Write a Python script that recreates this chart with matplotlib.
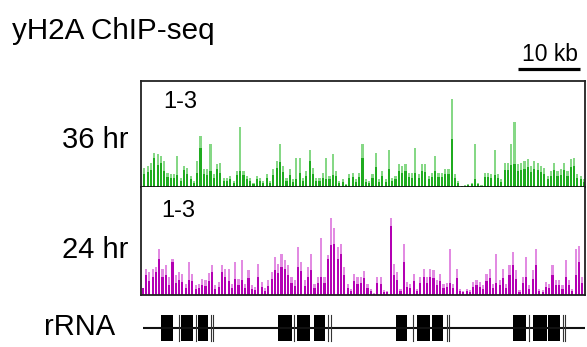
import matplotlib
matplotlib.use("Agg")
import matplotlib.pyplot as plt
import matplotlib.transforms as mtransforms
import numpy as np

plt.rcParams['font.family'] = ['Liberation Sans', 'DejaVu Sans']

# ---------------- data ----------------
# yH2A ChIP-seq signal per genomic bin (arbitrary units), two overlaid layers
h36_light = [19,21,24,34,33,31,26,14,13,13, 31,9,21,19,11,6,26,51,18,18,
             43,13,23,24,9,9,11,6,16,59, 16,11,9,4,11,9,6,13,6,18,
             26,43,21,9,18,8,29,29,9,16, 37,19,9,9,14,29,11,33,16,6,
             8,3,13,14,8,14,
             43,8,6,13,34,8,16,8,37,9, 11,23,21,23,14,14,39,13,23,23,
             11,14,31,14,14,18,18,87,13,6, 1,2,3,4,43,4,2,14,14,13,
             37,13,8,24,24,43,64,23,24,26, 28,21,26,24,21,19,11,16,24,16,
             18,24,16,28,29,13,11,8]
h36_dark = [13,15,17,29,22,24,16,10,9,9, 12,6,17,13,8,4,14,39,13,12,
            16,9,18,14,6,6,8,4,12,16, 12,8,6,3,8,6,4,9,4,12,
            19,25,15,6,12,5,8,14,6,11, 26,13,6,6,9,8,8,12,11,4,
            5,2,9,10,5,10,
            29,5,4,9,20,5,11,5,18,6, 8,16,14,16,10,9,14,9,16,15,
            8,10,16,10,10,13,13,48,9,4, 1,1,2,3,8,3,1,10,10,9,
            12,9,5,17,17,22,23,16,17,18, 20,15,18,17,15,13,8,11,17,11,
            12,17,11,20,21,9,8,5]
h24_light = [7,26,23,26,28,46,26,30,18,36, 20,23,21,11,33,21,10,11,16,15,
             22,30,10,13,30,26,26,11,33,16, 35,11,25,10,8,31,13,7,15,23,
             38,31,41,35,30,18,15,48,33,15, 28,41,11,18,56,18,40,76,66,48,
             51,28,11,6,21,18,18,
             24,11,6,2,18,18,5,4,76,31, 23,6,51,13,11,21,6,18,26,18,
             26,25,15,21,11,12,46,11,26,6, 4,6,5,13,15,13,10,21,26,11,
             41,15,26,11,30,43,25,5,18,38, 10,25,46,6,5,13,11,30,15,15,
             10,35,15,6,46,49,18]
h24_dark = [7,20,14,18,23,36,18,20,10,33, 12,15,13,7,15,14,6,7,10,9,
            14,23,6,8,23,18,14,7,16,10, 15,7,17,6,5,18,8,4,9,16,
            25,22,28,26,20,12,9,28,24,9, 18,25,7,12,18,12,36,50,51,36,
            41,20,7,4,14,11,12,
            17,7,4,1,12,11,3,3,68,20, 15,4,33,8,7,14,4,12,18,12,
            18,17,10,14,7,8,12,7,17,4, 3,4,3,8,10,8,6,14,17,7,
            12,10,17,7,20,30,16,3,12,18, 6,16,30,4,3,8,7,20,10,10,
            6,18,10,4,20,33,12]

region_kb = 71.6          # width of displayed region
bin_kb = 0.533            # bin size
start36_kb = 0.37
start24_kb = 0.10

# rRNA repeat annotation (kb)
rrna_block_start = [3.23, 6.45, 9.24, 22.15, 25.11, 27.95, 41.08, 44.56, 46.89, 59.95, 63.27, 65.69]
rrna_block_end   = [5.21, 8.44, 10.76, 24.31, 27.26, 29.68, 42.85, 46.61, 48.76, 62.10, 65.44, 67.58]
rrna_thin = [6.18, 8.87, 11.29, 11.66, 24.72, 30.21, 30.65, 43.82, 49.31, 49.73, 62.63, 68.02, 68.39]
rrna_span = [0.35, 71.6]

scale_bar_kb = [60.8, 70.8]

track_labels = ["36 hr", "24 hr"]
range_label = "1-3"

# ---------------- figure ----------------
W, H = 587, 347
fig = plt.figure(figsize=(W / 100, H / 100), dpi=100)

def fax(l, t, r, b):
    return fig.add_axes([l / W, 1 - b / H, (r - l) / W, (b - t) / H])

ax1 = fax(141, 81, 585, 187)
ax2 = fax(141, 187, 585, 295)
ax3 = fax(141, 310, 585, 346)

green_l, green_d = '#86d886', '#1fab1f'
mag_l, mag_d = '#e28be2', '#b300b3'

def draw_track(ax, light, dark, start, cl, cd, ymax):
    x = start + np.arange(len(light)) * bin_kb
    ax.bar(x, light, width=bin_kb * 0.65, align='edge', color=cl, linewidth=0)
    ax.bar(x, dark, width=bin_kb * 0.65, align='edge', color=cd, linewidth=0)
    ax.set_xlim(0, region_kb)
    ax.set_ylim(0, ymax)
    ax.set_xticks([])
    ax.set_yticks([])

draw_track(ax1, h36_light, h36_dark, start36_kb, green_l, green_d, 105)
draw_track(ax2, h24_light, h24_dark, start24_kb, mag_l, mag_d, 107)

for ax in (ax1, ax2):
    for s in ax.spines.values():
        s.set_color('#222222')
        s.set_linewidth(1.3)
ax2.spines['top'].set_visible(False)
ax1.spines['bottom'].set_color('#111111')

ax1.text(0.05, 0.80, range_label, transform=ax1.transAxes, fontsize=17, va='center', ha='left')
ax2.text(0.045, 0.78, range_label, transform=ax2.transAxes, fontsize=17, va='center', ha='left')

# rRNA track
ax3.set_xlim(0, region_kb)
ax3.set_ylim(-1, 1)
ax3.axis('off')
ax3.plot(rrna_span, [0, 0], color='#111111', lw=1.5, solid_capstyle='butt')
for s, e in zip(rrna_block_start, rrna_block_end):
    ax3.add_patch(plt.Rectangle((s, -0.72), e - s, 1.44, color='black', lw=0))
for t in rrna_thin:
    ax3.plot([t, t], [-0.72, 0.72], color='#333333', lw=0.8)

# scale bar
trans = mtransforms.blended_transform_factory(ax1.transData, ax1.transAxes)
ax1.plot(scale_bar_kb, [1.113, 1.113], color='black', lw=2.3, transform=trans, clip_on=False,
         solid_capstyle='butt')
fig.text(578 / W, 1 - 61 / H, "10 kb", fontsize=16.5, ha='right', va='baseline')

# labels
fig.text(12 / W, 1 - 39 / H, "yH2A ChIP-seq", fontsize=21.3, ha='left', va='baseline')
fig.text(128 / W, 1 - 140 / H, track_labels[0], fontsize=21, ha='right', va='center')
fig.text(128 / W, 1 - 250 / H, track_labels[1], fontsize=21, ha='right', va='center')
fig.text(115 / W, 1 - 327 / H, "rRNA", fontsize=21, ha='right', va='center')

fig.savefig("out.png", dpi=100)
